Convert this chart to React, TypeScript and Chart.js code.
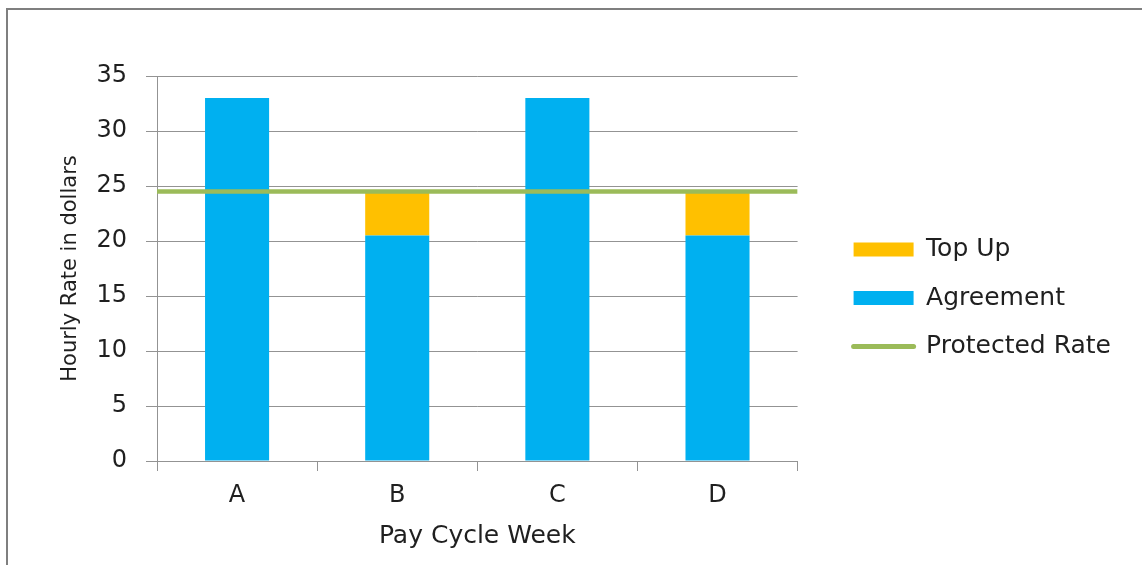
import React, { useEffect, useRef } from 'react';
import { Chart, registerables } from 'chart.js';

Chart.register(...registerables);

// ---- data ----
const categories = ['A', 'B', 'C', 'D'];
const agreement = [33, 20.5, 33, 20.5];
const topUp = [0, 4, 0, 4];
const protectedRate = 24.5;
const yMin = 0;
const yMax = 35;
const yStep = 5;
const legendOrder = ['Top Up', 'Agreement', 'Protected Rate'];

const BLUE = '#00B0F0';
const ORANGE = '#FFC000';
const GREEN = '#9BBB59';
const GRID = '#939393';
const TEXT = '#1f1f1f';
const FONT = 'DejaVu Sans';

export default function App() {
  const ref = useRef<HTMLCanvasElement>(null);

  useEffect(() => {
    if (!ref.current) return;
    Chart.defaults.font.family = FONT;
    const chart = new Chart(ref.current, {
      type: 'bar',
      data: {
        labels: categories,
        datasets: [
          {
            label: 'Agreement',
            data: agreement,
            indexAxis: 'x',
            xAxisID: 'x',
            yAxisID: 'y',
            backgroundColor: BLUE,
            borderWidth: 0,
            barPercentage: 0.4,
            categoryPercentage: 1,
            stack: 'main',
            order: 1,
          } as any,
          {
            label: 'Top Up',
            data: topUp,
            indexAxis: 'x',
            xAxisID: 'x',
            yAxisID: 'y',
            backgroundColor: ORANGE,
            borderWidth: 0,
            barPercentage: 0.4,
            categoryPercentage: 1,
            stack: 'main',
            order: 1,
          } as any,
          {
            type: 'line',
            label: 'Protected Rate',
            indexAxis: 'x',
            data: [
              { x: 0, y: protectedRate },
              { x: 1, y: protectedRate },
            ],
            xAxisID: 'x2',
            yAxisID: 'y',
            borderColor: GREEN,
            backgroundColor: GREEN,
            borderWidth: 4.5,
            borderCapStyle: 'butt',
            pointRadius: 0,
            pointHoverRadius: 0,
            pointStyle: 'line',
            pointBorderColor: GREEN,
            pointBorderWidth: 5,
            order: 0,
          } as any,
        ],
      },
      options: {
        indexAxis: 'y',
        responsive: false,
        animation: false,
        layout: { padding: { top: 0, bottom: 0, left: 0, right: 13 } },
        plugins: {
          tooltip: { enabled: false },
          legend: {
            position: 'right',
            maxWidth: 400,
            title: { display: true, text: '', font: { size: 21, lineHeight: 1 }, padding: 0 },
            labels: {
              usePointStyle: true,
              pointStyleWidth: 60,
              boxHeight: 14,
              padding: 23.5,
              color: TEXT,
              font: { size: 25, family: FONT },
              sort: (a: any, b: any) => legendOrder.indexOf(a.text) - legendOrder.indexOf(b.text),
              generateLabels: (c: any) => {
                const items = (Chart.defaults.plugins.legend.labels as any).generateLabels(c);
                return items.map((it: any) =>
                  it.text === 'Protected Rate'
                    ? { ...it, pointStyle: 'line', lineWidth: 5, lineCap: 'round', strokeStyle: GREEN }
                    : { ...it, pointStyle: 'rect', lineWidth: 0 }
                );
              },
            },
          },
        },
        scales: {
          x: {
            type: 'category',
            position: 'bottom',
            stacked: true,
            offset: true,
            grid: { offset: true, drawOnChartArea: false, drawTicks: true, tickLength: 10, color: GRID },
            border: { color: GRID },
            ticks: { font: { size: 24 }, color: TEXT, padding: 10 },
            title: {
              display: true,
              text: 'Pay Cycle Week',
              font: { size: 25 },
              color: TEXT,
              padding: { top: 0, bottom: 14 },
            },
            afterFit: (s: any) => {
              s.height = 104;
            },
          },
          x2: {
            type: 'linear',
            position: 'top',
            min: 0,
            max: 1,
            offset: false,
            display: true,
            ticks: { display: false },
            grid: { display: false, offset: false },
            border: { display: false },
            afterFit: (s: any) => {
              s.height = 66;
            },
          },
          y: {
            type: 'linear',
            position: 'left',
            stacked: true,
            offset: false,
            min: yMin,
            max: yMax,
            ticks: { stepSize: yStep, font: { size: 24 }, color: TEXT, padding: 19 },
            grid: { color: GRID, tickLength: 11, offset: false },
            border: { color: GRID },
            title: {
              display: true,
              text: 'Hourly Rate in dollars',
              font: { size: 21 },
              color: TEXT,
              padding: { top: 50, bottom: 0 },
            },
            afterFit: (s: any) => {
              s.width = 149;
            },
          },
          y2: {
            type: 'linear',
            position: 'right',
            offset: false,
            display: true,
            ticks: { display: false },
            grid: { display: false, offset: false },
            border: { display: false },
            afterFit: (s: any) => {
              s.width = 32.5;
            },
          },
        },
      } as any,
    });
    return () => chart.destroy();
  }, []);

  return (
    <div
      style={{
        position: 'absolute',
        left: 6,
        top: 8,
        borderLeft: '2px solid #7f7f7f',
        borderTop: '2px solid #7f7f7f',
        width: 1134,
        height: 555,
      }}
    >
      <canvas ref={ref} width={1126} height={555} style={{ display: 'block' }} />
    </div>
  );
}
